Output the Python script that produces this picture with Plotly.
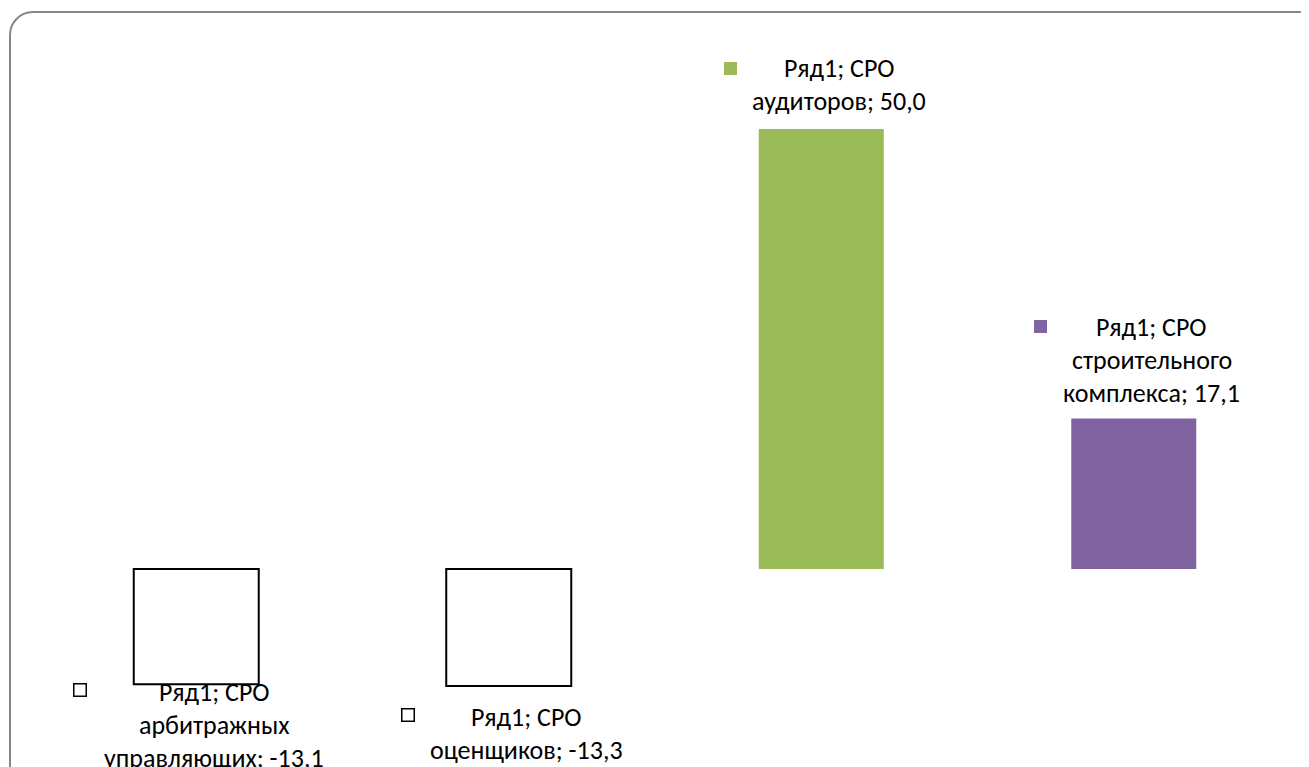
import plotly.graph_objects as go

# ---- data ----
series_name = "Ряд1"
categories = ["СРО арбитражных управляющих", "СРО оценщиков", "СРО аудиторов", "СРО строительного комплекса"]
values = [-13.1, -13.3, 50.0, 17.1]

# ---- styles ----
fill_colors = ["#FFFFFF", "#FFFFFF", "#9BBB59", "#8064A2"]
outline_colors = ["#000000", "#000000", "rgba(0,0,0,0)", "rgba(0,0,0,0)"]
outline_widths = [2, 2, 0, 0]
first_line_shift = [-8, -31, 61, 92]     # px, relative to bar end
key_yshift = [-6, -29, 61, 92]
key_xshift = [-116, -101, -91, -93]
text_xshift = [18, 18, 18, 18]
line_gap = 33
FONT = "Calibri, Carlito, Lato, sans-serif"
FSIZE = 26

OFF = 8  # page body margin
W, H = 1309 - OFF, 767 - OFF
ML, MR, MT, MB = 40 - OFF, 19, 41 - OFF, 22
YMIN, YMAX = -20, 60

fig = go.Figure()
fig.add_trace(go.Bar(
    x=list(range(len(categories))), y=values,
    marker=dict(color=fill_colors, line=dict(color=outline_colors, width=outline_widths)),
    width=0.4, showlegend=False, hoverinfo="skip",
))

def fmt(v):
    return f"{v:.1f}".replace(".", ",")

annotations = []
for i, (cat, v) in enumerate(zip(categories, values)):
    words = cat.split()
    lines = [f"{series_name}; {words[0]}"] + words[1:-1] + [f"{words[-1]}; {fmt(v)}"]
    for j, ln in enumerate(lines):
        annotations.append(dict(
            x=i, y=v, xref="x", yref="y", text=ln, showarrow=False,
            xanchor="center", yanchor="middle",
            xshift=text_xshift[i], yshift=first_line_shift[i] - j * line_gap,
            font=dict(family=FONT, size=FSIZE, color="#000000"),
        ))
    # legend key square
    is_outline = outline_widths[i] > 0
    annotations.append(dict(
        x=i, y=v, xref="x", yref="y", text=" ", showarrow=False,
        xanchor="center", yanchor="middle",
        xshift=key_xshift[i], yshift=key_yshift[i],
        width=11 if is_outline else 13, height=11 if is_outline else 13,
        bgcolor=fill_colors[i],
        bordercolor="#000000" if is_outline else fill_colors[i],
        borderwidth=1.5 if is_outline else 0, borderpad=0,
        font=dict(size=4),
    ))

# rounded chart-area border (pixel -> paper), figure pixel coords
pw = W - ML - MR
ph = H - MT - MB
def px(x):
    return (x - ML) / pw
def py(y):
    return (H - MB - y) / ph
r = 23
k = r * 0.448
x0, y0 = 10 - OFF, 12 - OFF
path = (f"M {px(x0)},{py(H + 20)} L {px(x0)},{py(y0 + r)} "
        f"C {px(x0)},{py(y0 + k)} {px(x0 + k)},{py(y0)} {px(x0 + r)},{py(y0)} "
        f"L {px(W + 20)},{py(y0)}")

fig.update_layout(
    width=W, height=H,
    margin=dict(l=ML, r=MR, t=MT, b=MB, pad=0),
    paper_bgcolor="white", plot_bgcolor="white",
    xaxis=dict(visible=False, range=[-0.5, len(categories) - 0.5]),
    yaxis=dict(visible=False, range=[YMIN, YMAX]),
    annotations=annotations,
    shapes=[dict(type="path", path=path, xref="paper", yref="paper",
                 line=dict(color="#868686", width=2))],
)

fig.write_html("out.html")
